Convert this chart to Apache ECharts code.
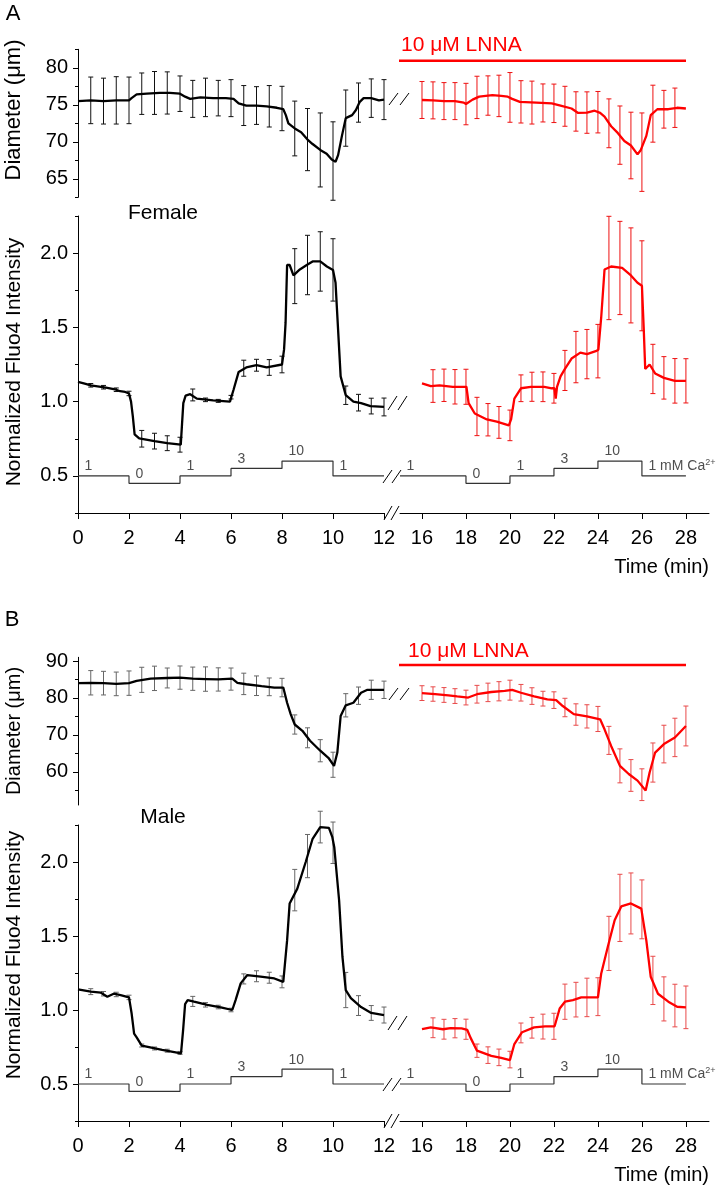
<!DOCTYPE html>
<html><head><meta charset="utf-8">
<script src="https://cdn.jsdelivr.net/npm/echarts@6/dist/echarts.min.js"></script>
<style>html,body{margin:0;padding:0;background:#fff}#c{width:725px;height:1185px}</style>
</head><body><div id="c"></div>
<script>
const FONT = '"Liberation Sans", Arial, Helvetica, sans-serif';

// ---------------- tick values ----------------
const xTicksLeft = [0, 2, 4, 6, 8, 10, 12];
const xTicksRight = [16, 18, 20, 22, 24, 26, 28];
const diamTicksA = [65, 70, 75, 80];
const diamMinorA = [62.5, 67.5, 72.5, 77.5, 82.5];
const diamTicksB = [60, 70, 80, 90];
const diamMinorB = [55, 65, 75, 85];
const fluoTicks = [0.5, 1.0, 1.5, 2.0];
const fluoMinor = [0.25, 0.75, 1.25, 1.75, 2.25];

// ---------------- Ca2+ protocol ----------------
const caTimesLeft = [0, 2, 4, 6, 8, 10, 12];
const caTimesRight = [15, 18, 20, 22, 24, 26, 28];
const caConc = [1, 0, 1, 3, 10, 1];
const caLevels = {0: 0.45, 1: 0.5, 3: 0.55, 10: 0.6};
const caLabelsLeft = ['1', '0', '1', '3', '10', '1'];
const caLabelsRight = ['1', '0', '1', '3', '10', '1 mM Ca{s|2+}'];

// ---------------- Panel A (Female) ----------------
const diamA_ctrl = [[0,75.5],[0.5,75.6],[1,75.5],[1.5,75.6],[2,75.6],[2.1,75.9],[2.3,76.4],[2.7,76.5],[3.2,76.6],[3.6,76.6],[4.0,76.5],[4.2,76.1],[4.4,75.8],[4.8,76.0],[5.3,75.9],[5.8,75.9],[6.1,75.8],[6.3,75.2],[6.6,74.9],[7.0,74.9],[7.4,74.8],[7.8,74.6],[8.05,74.4],[8.15,73.6],[8.25,72.5],[8.5,71.8],[8.75,71.3],[9.0,70.3],[9.2,69.7],[9.5,68.9],[9.75,68.4],[9.95,67.6],[10.1,67.3],[10.2,68.2],[10.35,70.8],[10.5,73.2],[10.75,73.6],[10.9,74.3],[11.05,75.4],[11.2,75.9],[11.5,75.9],[11.8,75.6],[12,75.7]];
const diamA_ctrl_err = [[0.5,75.6,3.15],[1,75.5,3.1],[1.5,75.6,3.2],[2,75.6,3.15],[2.5,76.5,2.8],[3,76.6,2.9],[3.5,76.6,2.85],[4,76.5,2.4],[4.5,75.8,2.5],[5,76.0,2.6],[5.5,75.9,2.4],[6,75.9,2.5],[6.5,74.9,2.7],[7,74.9,2.55],[7.5,74.8,2.8],[8,74.5,3.0],[8.5,71.8,3.7],[9,70.3,4.2],[9.5,68.9,5.0],[10,67.4,5.3],[10.5,73.2,3.8],[11,75.3,2.65],[11.5,75.9,2.6],[12,75.7,2.7]];
const diamA_lnna = [[16,75.65],[16.5,75.6],[17,75.5],[17.5,75.5],[17.9,75.3],[18.0,75.1],[18.3,75.7],[18.6,76.1],[19.2,76.3],[19.6,76.2],[19.9,76.1],[20.1,75.8],[20.45,75.4],[21.2,75.3],[21.9,75.2],[22.3,74.9],[22.8,74.5],[23.1,73.9],[23.5,73.95],[23.85,74.2],[24.1,73.9],[24.3,73.4],[24.6,72.1],[24.9,71.2],[25.2,70.1],[25.5,69.5],[25.8,68.3],[25.95,68.9],[26.2,70.8],[26.4,73.6],[26.7,74.4],[27.2,74.4],[27.6,74.6],[28,74.5]];
const diamA_lnna_err = [[16,75.65,2.5],[16.5,75.6,2.5],[17,75.5,2.5],[17.5,75.5,2.5],[18,75.1,2.8],[18.5,76.0,2.86],[19,76.25,2.66],[19.5,76.2,2.8],[20,76.0,3.36],[20.5,75.4,2.86],[21,75.3,2.9],[21.5,75.25,2.57],[22,75.2,2.6],[22.5,74.8,2.7],[23,74.1,2.66],[23.5,73.95,2.8],[24,74.0,2.8],[24.5,72.5,3.3],[25,70.9,3.94],[25.5,69.5,4.5],[26,68.6,5.3],[26.5,73.8,3.85],[27,74.4,2.55],[27.5,74.6,2.66]];
const fluoA_ctrl = [[0,1.133],[0.3,1.12],[0.5,1.11],[0.7,1.105],[0.9,1.10],[1.1,1.095],[1.3,1.088],[1.5,1.08],[1.65,1.07],[1.85,1.065],[2.0,1.055],[2.08,1.0],[2.15,0.9],[2.22,0.78],[2.4,0.752],[3.0,0.734],[3.5,0.72],[4.03,0.71],[4.08,0.85],[4.13,0.99],[4.22,1.04],[4.4,1.05],[4.66,1.02],[5.3,1.009],[5.96,1.0],[6.1,1.08],[6.3,1.2],[6.6,1.23],[7.0,1.245],[7.4,1.23],[8.0,1.25],[8.08,1.35],[8.14,1.53],[8.2,1.92],[8.3,1.92],[8.45,1.85],[8.7,1.89],[8.97,1.92],[9.2,1.944],[9.5,1.944],[9.76,1.91],[10.0,1.887],[10.1,1.8],[10.15,1.64],[10.3,1.17],[10.5,1.043],[10.8,1.0],[11.1,0.99],[11.47,0.97],[12,0.964]];
const fluoA_ctrl_err = [[0.5,1.11,0.012],[1,1.097,0.012],[1.5,1.08,0.012],[2,1.055,0.015],[2.5,0.75,0.056],[3,0.734,0.053],[3.5,0.72,0.05],[4,0.71,0.05],[4.5,1.045,0.04],[5,1.012,0.012],[5.5,1.005,0.01],[6,1.03,0.012],[6.5,1.225,0.054],[7,1.245,0.04],[7.5,1.23,0.053],[8,1.25,0.056],[8.5,1.845,0.185],[9,1.92,0.2],[9.5,1.944,0.2],[10,1.887,0.21],[10.5,1.043,0.062],[11,0.993,0.056],[11.5,0.97,0.053],[12,0.964,0.06]];
const fluoA_lnna = [[16,1.123],[16.4,1.105],[16.8,1.11],[17.4,1.1],[17.9,1.1],[18.02,1.1],[18.12,0.99],[18.4,0.92],[18.95,0.88],[19.4,0.865],[19.95,0.84],[20.05,0.88],[20.2,1.02],[20.5,1.09],[20.95,1.1],[21.56,1.1],[21.9,1.09],[22.02,1.09],[22.08,1.02],[22.14,1.1],[22.3,1.17],[22.5,1.22],[22.8,1.29],[23.2,1.33],[23.5,1.32],[23.9,1.34],[24.02,1.35],[24.15,1.57],[24.3,1.89],[24.6,1.91],[25.1,1.9],[25.5,1.85],[25.8,1.8],[26.0,1.78],[26.08,1.5],[26.15,1.22],[26.35,1.25],[26.6,1.19],[27.0,1.16],[27.5,1.14],[28,1.14]];
const fluoA_lnna_err = [[16.5,1.105,0.11],[17,1.11,0.109],[17.5,1.1,0.116],[18,1.1,0.118],[18.5,0.9,0.129],[19,0.878,0.109],[19.5,0.86,0.107],[20,0.84,0.103],[20.5,1.09,0.09],[21,1.1,0.098],[21.5,1.1,0.1],[22,1.09,0.1],[22.5,1.21,0.135],[23,1.3,0.173],[23.5,1.32,0.166],[24,1.34,0.18],[24.5,1.9,0.348],[25,1.9,0.314],[25.5,1.85,0.32],[26,1.78,0.303],[26.5,1.22,0.166],[27,1.16,0.143],[27.5,1.14,0.15],[28,1.14,0.149]];

// ---------------- Panel B (Male) ----------------
const diamB_ctrl = [[0,84.0],[0.5,84.1],[1,84.0],[1.5,83.8],[2,84.0],[2.3,84.6],[2.85,85.2],[3.5,85.4],[4.0,85.5],[4.5,85.2],[5.0,85.1],[5.5,85.0],[6.05,85.2],[6.25,84.1],[6.6,83.7],[7.2,83.2],[7.7,82.8],[8.05,82.8],[8.2,78.7],[8.34,75.6],[8.5,72.8],[8.8,71.1],[9.1,68.4],[9.5,65.7],[9.84,63.6],[10.04,61.6],[10.17,65.2],[10.3,75.1],[10.5,78.0],[10.8,78.7],[11.1,81.4],[11.35,82.2],[12,82.2]];
const diamB_ctrl_err = [[0.5,84.1,3.3],[1,84.0,3.2],[1.5,83.8,3.2],[2,84.0,3.3],[2.5,84.9,3.4],[3,85.3,3.3],[3.5,85.4,2.7],[4,85.5,3.15],[4.5,85.2,3.15],[5,85.1,3.3],[5.5,85.0,3.15],[6,85.1,3.0],[6.5,83.8,2.9],[7,83.3,2.65],[7.5,83.0,2.4],[8,82.8,2.5],[8.5,72.8,2.6],[9,69.2,2.7],[9.5,65.7,3.0],[10,61.9,3.4],[10.5,78.0,3.15],[11,80.6,2.35],[11.5,82.2,2.6],[12,82.2,2.35]];
const diamB_lnna = [[16,81.3],[16.6,81.0],[17.2,80.7],[17.6,80.4],[18.1,80.1],[18.5,81.0],[19.15,81.6],[19.76,81.9],[20.1,82.2],[20.5,81.4],[21.1,80.4],[21.7,79.6],[22.1,79.4],[22.4,77.8],[22.9,75.6],[23.5,75.0],[24.1,74.2],[24.3,71.5],[24.6,67.0],[25.0,61.6],[25.4,59.4],[25.8,57.6],[26.17,54.9],[26.35,59.8],[26.6,65.2],[27.0,67.5],[27.5,69.3],[28,72.4]];
const diamB_lnna_err = [[16,81.3,2.0],[16.5,81.05,1.95],[17,80.8,2.0],[17.5,80.5,2.0],[18,80.1,2.0],[18.5,81.0,2.4],[19,81.5,2.5],[19.5,81.8,2.6],[20,82.1,2.7],[20.5,81.4,2.25],[21,80.5,2.25],[21.5,79.8,2.0],[22,79.4,2.25],[22.5,77.4,2.5],[23,75.5,2.9],[23.5,75.0,3.15],[24,74.3,3.4],[24.5,68.5,3.8],[25,61.6,4.6],[25.5,59.0,4.3],[26,56.5,4.3],[26.5,62.5,5.3],[27,67.5,5.1],[27.5,69.3,5.2],[28,72.4,5.4]];
const fluoB_ctrl = [[0,1.139],[0.5,1.124],[0.9,1.117],[1.15,1.09],[1.4,1.11],[1.67,1.10],[2.0,1.085],[2.1,0.98],[2.2,0.84],[2.3,0.815],[2.5,0.76],[3.3,0.73],[4.04,0.707],[4.12,0.86],[4.2,1.04],[4.3,1.067],[4.55,1.056],[5.07,1.034],[5.6,1.018],[6.05,1.0],[6.18,1.067],[6.38,1.18],[6.64,1.236],[7.16,1.225],[7.7,1.213],[8.05,1.19],[8.2,1.47],[8.3,1.72],[8.6,1.82],[8.93,2.0],[9.2,2.157],[9.5,2.236],[9.84,2.23],[9.97,2.17],[10.05,2.1],[10.24,1.74],[10.37,1.36],[10.5,1.135],[10.7,1.08],[11.1,1.02],[11.5,0.98],[12,0.966]];
const fluoB_ctrl_err = [[0.5,1.124,0.02],[1,1.11,0.015],[1.5,1.105,0.015],[2,1.085,0.015],[2.5,0.76,0.01],[3,0.74,0.01],[3.5,0.725,0.01],[4,0.71,0.01],[4.5,1.058,0.034],[5,1.035,0.015],[5.5,1.02,0.012],[6,1.0,0.012],[6.5,1.21,0.034],[7,1.228,0.037],[7.5,1.218,0.037],[8,1.19,0.04],[8.5,1.81,0.14],[9,2.04,0.146],[9.5,2.236,0.107],[10,2.13,0.14],[10.5,1.135,0.119],[11,1.03,0.067],[11.5,0.98,0.05],[12,0.966,0.054]];
const fluoB_lnna = [[16,0.87],[16.4,0.883],[16.95,0.87],[17.3,0.878],[17.8,0.876],[18.06,0.865],[18.2,0.815],[18.5,0.725],[19.15,0.69],[19.6,0.676],[20.0,0.662],[20.2,0.77],[20.55,0.85],[21.1,0.883],[21.6,0.89],[22.03,0.89],[22.26,1.01],[22.5,1.056],[22.86,1.067],[23.24,1.085],[23.6,1.085],[24.0,1.085],[24.15,1.247],[24.45,1.427],[24.76,1.607],[25.06,1.70],[25.5,1.72],[25.97,1.685],[26.2,1.47],[26.4,1.225],[26.73,1.11],[27.2,1.056],[27.6,1.022],[28,1.018]];
const fluoB_lnna_err = [[16.5,0.88,0.067],[17,0.87,0.067],[17.5,0.877,0.065],[18,0.87,0.068],[18.5,0.725,0.045],[19,0.695,0.056],[19.5,0.68,0.056],[20,0.665,0.056],[20.5,0.845,0.067],[21,0.88,0.07],[21.5,0.888,0.084],[22,0.89,0.088],[22.5,1.056,0.119],[23,1.07,0.117],[23.5,1.085,0.13],[24,1.09,0.128],[24.5,1.45,0.183],[25,1.69,0.227],[25.5,1.72,0.206],[26,1.68,0.199],[26.5,1.2,0.163],[27,1.075,0.149],[27.5,1.03,0.144],[28,1.018,0.144]];

// ---------------- chart construction ----------------
const grids = [], xAxes = [], yAxes = [], series = [];
function addGrid(left, top, width, height) {
  grids.push({left, top, width, height, outerBoundsMode: 'none', containLabel: false});
  return grids.length - 1;
}
function addX(gi, min, max, ticks) {
  const show = !!ticks;
  const ax = {type: 'value', gridIndex: gi, min, max, show,
    axisLine: {show, onZero: false, lineStyle: {color: '#000', width: 1}},
    axisTick: {show, inside: false, length: 6, lineStyle: {color: '#000', width: 1}},
    axisLabel: {show, margin: 15, fontSize: 20, color: '#000', fontFamily: FONT},
    splitLine: {show: false}};
  if (ticks) { ax.axisTick.customValues = ticks; ax.axisLabel.customValues = ticks; }
  xAxes.push(ax);
  return xAxes.length - 1;
}
function addY(gi, min, max, ticks, minor, fmt) {
  const show = !!ticks;
  const ax = {type: 'value', gridIndex: gi, min, max, position: 'left', show,
    axisLine: {show, onZero: false, lineStyle: {color: '#000', width: 1}},
    axisTick: {show, inside: false, length: 5, lineStyle: {color: '#000', width: 1}},
    axisLabel: {show, margin: 10, fontSize: 20, color: '#000', fontFamily: FONT, formatter: fmt},
    splitLine: {show: false}};
  if (ticks) { ax.axisTick.customValues = ticks; ax.axisLabel.customValues = ticks; }
  yAxes.push(ax);
  const idx = yAxes.length - 1;
  if (minor) {
    yAxes.push({type: 'value', gridIndex: gi, min, max, position: 'left',
      axisLine: {show: false}, axisLabel: {show: false}, splitLine: {show: false},
      axisTick: {show: true, inside: false, length: 3, customValues: minor, lineStyle: {color: '#000', width: 1}}});
  }
  return idx;
}
function lineS(xi, yi, data, color) {
  series.push({type: 'line', xAxisIndex: xi, yAxisIndex: yi, data, symbol: 'none', showSymbol: false,
    lineStyle: {color, width: 2.3}, z: 4, clip: false, silent: true, animation: false});
}
function errS(xi, yi, data, color) {
  series.push({type: 'custom', xAxisIndex: xi, yAxisIndex: yi, data, clip: false, silent: true, z: 3,
    encode: {x: 0, y: 1},
    renderItem(params, api) {
      const t = api.value(0), m = api.value(1), e = api.value(2);
      const a = api.coord([t, m + e]), b = api.coord([t, m - e]);
      const hw = 2.5, st = {stroke: color, lineWidth: 1};
      return {type: 'group', children: [
        {type: 'line', shape: {x1: a[0], y1: a[1], x2: b[0], y2: b[1]}, style: st},
        {type: 'line', shape: {x1: a[0] - hw, y1: a[1], x2: a[0] + hw, y2: a[1]}, style: st},
        {type: 'line', shape: {x1: b[0] - hw, y1: b[1], x2: b[0] + hw, y2: b[1]}, style: st}
      ]};
    }});
}
function caS(xi, yi, times, labels) {
  const d = [], lab = [];
  for (let i = 0; i < caConc.length; i++) {
    const lv = caLevels[caConc[i]];
    d.push([times[i], lv]); d.push([times[i + 1], lv]);
    lab.push([times[i], lv, labels[i]]);
  }
  series.push({type: 'line', xAxisIndex: xi, yAxisIndex: yi, data: d, symbol: 'none',
    lineStyle: {color: '#333', width: 1.2}, z: 2, clip: false, silent: true, animation: false});
  series.push({type: 'scatter', xAxisIndex: xi, yAxisIndex: yi, data: lab, symbolSize: 1,
    itemStyle: {color: 'rgba(0,0,0,0)'}, z: 5, silent: true, animation: false,
    label: {show: true, position: [7, -1], align: 'left', verticalAlign: 'bottom',
      fontSize: 14, lineHeight: 16, color: '#222', fontFamily: FONT,
      formatter: p => p.data[2],
      rich: {s: {fontSize: 9, lineHeight: 9, verticalAlign: 'top', color: '#222', fontFamily: FONT}}}});
}

const panels = [
  {diamTop: 49.3, diamH: 148, fluoTop: 216, fluoH: 297, dMin: 62.5, dMax: 82.5, dTicks: diamTicksA, dMinor: diamMinorA,
   dCtrl: diamA_ctrl, dCtrlE: diamA_ctrl_err, dLn: diamA_lnna, dLnE: diamA_lnna_err,
   fCtrl: fluoA_ctrl, fCtrlE: fluoA_ctrl_err, fLn: fluoA_lnna, fLnE: fluoA_lnna_err, ebBlack: '#111', ebRed: '#ee1111'},
  {diamTop: 657.3, diamH: 147.7, fluoTop: 825, fluoH: 296, dMin: 51, dMax: 91, dTicks: diamTicksB, dMinor: diamMinorB,
   dCtrl: diamB_ctrl, dCtrlE: diamB_ctrl_err, dLn: diamB_lnna, dLnE: diamB_lnna_err,
   fCtrl: fluoB_ctrl, fCtrlE: fluoB_ctrl_err, fLn: fluoB_lnna, fLnE: fluoB_lnna_err, ebBlack: '#666', ebRed: '#e84a4a'}
];
panels.forEach(p => {
  const gDL = addGrid(78, p.diamTop, 306, p.diamH), gDR = addGrid(400, p.diamTop, 309, p.diamH);
  const gFL = addGrid(78, p.fluoTop, 306, p.fluoH), gFR = addGrid(400, p.fluoTop, 309, p.fluoH);
  const xDL = addX(gDL, 0, 12, null), xDR = addX(gDR, 15, 29.05, null);
  const xFL = addX(gFL, 0, 12, xTicksLeft), xFR = addX(gFR, 15, 29.05, xTicksRight);
  const yDL = addY(gDL, p.dMin, p.dMax, p.dTicks, p.dMinor, v => String(v));
  const yDR = addY(gDR, p.dMin, p.dMax, null, null);
  const yFL = addY(gFL, 0.25, 2.25, fluoTicks, fluoMinor, v => v.toFixed(1));
  const yFR = addY(gFR, 0.25, 2.25, null, null);
  errS(xDL, yDL, p.dCtrlE, p.ebBlack); lineS(xDL, yDL, p.dCtrl, '#000');
  errS(xDR, yDR, p.dLnE, p.ebRed); lineS(xDR, yDR, p.dLn, '#ff0000');
  errS(xFL, yFL, p.fCtrlE, p.ebBlack); lineS(xFL, yFL, p.fCtrl, '#000');
  errS(xFR, yFR, p.fLnE, p.ebRed); lineS(xFR, yFR, p.fLn, '#ff0000');
  caS(xFL, yFL, caTimesLeft, caLabelsLeft);
  caS(xFR, yFR, caTimesRight, caLabelsRight);
});

// ---------------- annotations ----------------
const graphic = [];
function txt(x, y, text, size, opt) {
  opt = opt || {};
  graphic.push({type: 'text', x, y, rotation: opt.rot || 0, silent: true,
    style: {text, fontSize: size, fontFamily: FONT, fill: opt.color || '#000',
      align: opt.align || 'center', verticalAlign: 'middle'}});
}
function seg(x1, y1, x2, y2, color, w) {
  graphic.push({type: 'line', silent: true, shape: {x1, y1, x2, y2}, style: {stroke: color || '#000', lineWidth: w || 1}});
}
function brk(x, yb, w, h, gap) {
  seg(x, yb, x + w, yb - h); seg(x + gap, yb, x + gap + w, yb - h);
}
[0, 608].forEach((dy, i) => {
  txt(i ? 12 : 13, (i ? 620 : 14), i ? 'B' : 'A', 22);
  txt(i ? 408 : 401, (i ? 651 : 45), '10 μM LNNA', 21, {color: '#ff0000', align: 'left'});
  seg(399, i ? 665 : 60.7, 686, i ? 665 : 60.7, '#ff0000', 2.5);
  txt(163, i ? 817 : 213, i ? 'Male' : 'Female', 21);
  txt(14, i ? 731 : 110, 'Diameter (μm)', i ? 20 : 22, {rot: Math.PI / 2});
  txt(14.5, i ? 955 : 362, 'Normalized Fluo4 Intensity', 21, {rot: Math.PI / 2});
  txt(709, 567 + dy, 'Time (min)', 20, {align: 'right'});
  // break marks
  brk(389, (i ? 700 : 105), 9, 12, 11);
  brk(388, 410 + (i ? 620 : 0), 9, 14, 10);
  brk(383, 483 + dy, 9, 13, 9);
  brk(384, 520 + dy, 8, 14, 7);
});

const chart = echarts.init(document.getElementById('c'), null, {renderer: 'canvas'});
chart.setOption({
  animation: false,
  backgroundColor: '#fff',
  textStyle: {fontFamily: FONT},
  grid: grids, xAxis: xAxes, yAxis: yAxes, series, graphic
});
</script></body></html>
